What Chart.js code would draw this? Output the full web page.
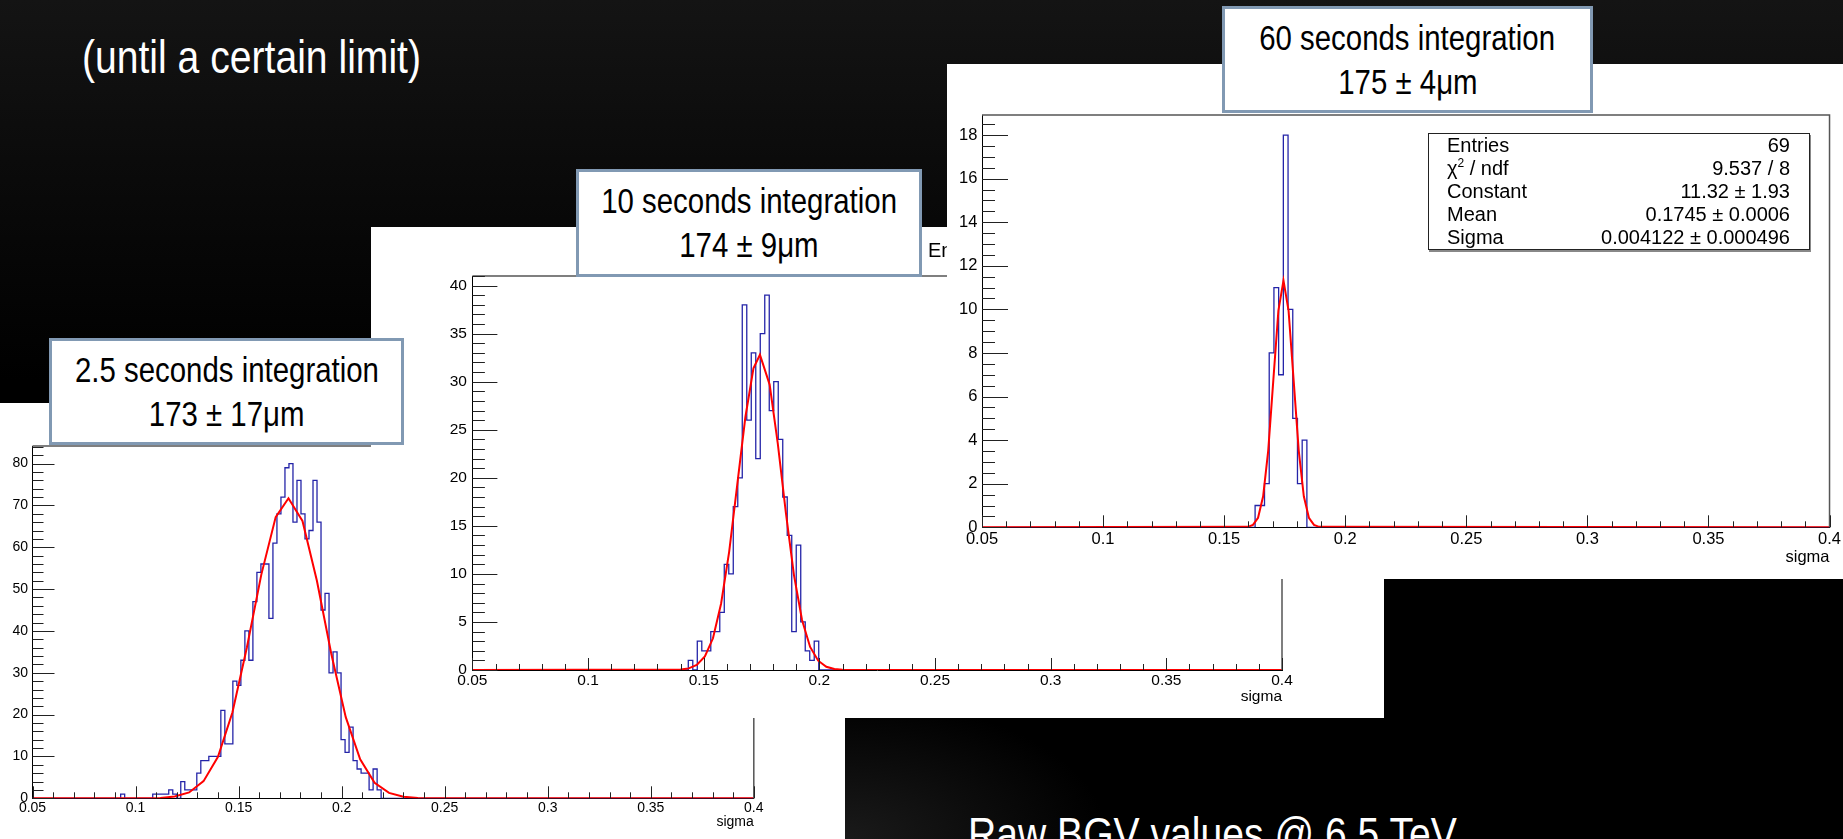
<!DOCTYPE html>
<html>
<head>
<meta charset="utf-8">
<script src="https://cdn.jsdelivr.net/npm/chart.js@4.4.0/dist/chart.umd.min.js"></script>
<style>
html, body { margin: 0; padding: 0; }
body {
  width: 1843px; height: 839px; overflow: hidden; position: relative;
  background:
    radial-gradient(ellipse 260px 140px at 46% 100%, #1a1a1a 0%, rgba(0,0,0,0) 100%),
    linear-gradient(to bottom, #141414 0px, #0b0b0b 160px, #000 380px, #000 839px);
}
.panel { position: absolute; background: #fff; }
.panel canvas { position: absolute; left: 0; top: 0; }
.box {
  position: absolute; box-sizing: border-box; background: #fff; z-index: 10;
  border: 3px solid #8199b3; color: #000;
  font-family: 'Liberation Sans', Arial, sans-serif;
  font-size: 35px; line-height: 44px;
  display: flex; flex-direction: column; justify-content: center;
}
.box div { display: flex; justify-content: center; white-space: nowrap; }
.narrow { display: inline-block; transform: scaleX(0.84); transform-origin: 50% 50%; }
.slide {
  position: absolute; color: #fff; white-space: nowrap;
  font-family: 'Liberation Sans', Arial, sans-serif;
  font-size: 46px; line-height: 46px;
  transform: scaleX(0.85); transform-origin: 0 50%;
}
.stats {
  position: absolute; box-sizing: border-box; background: #fff;
  border: 1.5px solid #222; box-shadow: 1px 2px 0 #888;
  font-family: 'Liberation Sans', Arial, sans-serif; font-size: 20px; line-height: 23px;
  padding: 0 19px 0 18px; color: #000;
}
.stats div { display: flex; justify-content: space-between; white-space: nowrap; }
.stats sup { font-size: 12px; line-height: 0; }
</style>
</head>
<body>

<div class="slide" style="left:82px; top:34px;">(until a certain limit)</div>
<div class="slide" style="left:968px; top:811px;">Raw BGV values @ 6.5 TeV</div>

<div class="panel" style="left:0px; top:403px; width:845px; height:436px; z-index:1;">
  <canvas id="hist25" width="845" height="436"></canvas>
</div>

<div class="panel" style="left:371px; top:227px; width:1013px; height:491px; z-index:2;">
  <canvas id="hist10" width="1013" height="491"></canvas>
  <div style="position:absolute; left:557px; top:13px; font:20px/20px 'Liberation Sans', Arial, sans-serif;">Entries</div>
</div>

<div class="panel" style="left:947px; top:64px; width:896px; height:515px; z-index:3;">
  <canvas id="hist60" width="896" height="515"></canvas>
  <div class="stats" style="left:481px; top:69px; width:382px; height:117px;">
    <div><span>Entries</span><span>69</span></div>
    <div><span>&chi;<sup>2</sup> / ndf</span><span>9.537 / 8</span></div>
    <div><span>Constant</span><span>11.32 &plusmn; 1.93</span></div>
    <div><span>Mean</span><span>0.1745 &plusmn; 0.0006</span></div>
    <div><span>Sigma</span><span>0.004122 &plusmn; 0.000496</span></div>
  </div>
</div>

<div class="box" style="left:49px; top:338px; width:355px; height:107px;">
  <div><span class="narrow">2.5 seconds integration</span></div>
  <div><span class="narrow">173 &plusmn; 17&mu;m</span></div>
</div>
<div class="box" style="left:576px; top:169px; width:346px; height:108px;">
  <div><span class="narrow">10 seconds integration</span></div>
  <div><span class="narrow">174 &plusmn; 9&mu;m</span></div>
</div>
<div class="box" style="left:1222px; top:6px; width:371px; height:107px;">
  <div><span class="narrow">60 seconds integration</span></div>
  <div><span class="narrow">175 &plusmn; 4&mu;m</span></div>
</div>

<script>
// histogram binning shared by all three plots
const binLow = 0.05
const binHigh = 0.4
const nBins = 180
const binWidth = (binHigh - binLow) / nBins

////////// 2.5 s integration //////////
const h25First = 22
const h25Counts = [1, 0, 0, 0, 0, 0, 0, 0,
  1, 1, 1, 1, 2, 1, 0, 4, 2, 2,
  2, 6, 9, 9, 10, 10, 10, 21, 13, 13,
  28, 27, 33, 40, 33, 47, 54, 56, 56, 43,
  61, 68, 72, 79, 80, 66, 76, 68, 62, 64,
  76, 66, 45, 49, 30, 35, 30, 14, 11, 17,
  9, 7, 6, 6, 2, 7, 2]
const fit25X = [0.05, 0.105, 0.112, 0.119, 0.126, 0.133, 0.140, 0.147, 0.154, 0.161, 0.168, 0.1742,
  0.181, 0.188, 0.195, 0.202, 0.209, 0.216, 0.223, 0.230, 0.237, 0.244, 0.4]
const fit25Y = [0, 0.02, 0.1, 0.42, 1.4, 4.1, 9.9, 20.5, 36.0, 53.4, 67.2, 71.7,
  66.3, 52.0, 34.5, 19.4, 9.3, 3.7, 1.3, 0.37, 0.09, 0.02, 0]

////////// 10 s integration //////////
const h10First = 48
const h10Counts = [1, 0, 3, 2, 2, 4, 4, 6, 11, 10,
  17, 20, 38, 26, 33, 22, 35, 39, 27, 30,
  24, 18, 14, 4, 13, 5, 2, 1, 3]
const fit10X = [0.05, 0.140, 0.1435, 0.147, 0.1505, 0.154, 0.1575, 0.161, 0.1645, 0.168, 0.1715, 0.1743,
  0.1785, 0.182, 0.1855, 0.189, 0.1925, 0.196, 0.1995, 0.203, 0.2065, 0.21, 0.4]
const fit10Y = [0, 0.05, 0.17, 0.53, 1.42, 3.3, 6.9, 12.3, 19.3, 26.3, 31.4, 32.8,
  29.7, 23.6, 16.4, 9.9, 5.2, 2.4, 0.97, 0.34, 0.1, 0.03, 0]

////////// 60 s integration //////////
const h60First = 58
const h60Counts = [1, 1, 2, 8, 11, 7, 18, 10, 5, 2, 4]
const fit60X = [0.05, 0.1598, 0.1619, 0.1640, 0.1661, 0.1682, 0.1703, 0.1724, 0.1745,
  0.1766, 0.1787, 0.1808, 0.1829, 0.1850, 0.1871, 0.1892, 0.4]
const fit60Y = [0, 0.02, 0.11, 0.44, 1.42, 3.52, 6.74, 9.94, 11.32,
  9.94, 6.74, 3.52, 1.42, 0.44, 0.11, 0.02, 0]

const tickFont = "'Liberation Sans', Arial, sans-serif"

// step outline of a histogram, one point per bin low edge
histPoints = (first, counts) => {
  let pts = [{x: binLow, y: 0}]
  counts.forEach((c, i) => pts.push({x: binLow + (first + i) * binWidth, y: c}))
  pts.push({x: binLow + (first + counts.length) * binWidth, y: 0})
  pts.push({x: binHigh, y: 0})
  return pts
}

fitPoints = (xs, ys) => xs.map((x, i) => ({x: x, y: ys[i]}))

// ROOT style frame: ticks drawn inward, thin grey top/right edges
const rootAxes = {
  id: 'rootAxes',
  afterDraw(chart, args, o) {
    const {ctx, chartArea: a} = chart
    const x = chart.scales.x
    const y = chart.scales.y
    ctx.save()
    ctx.strokeStyle = '#555'
    ctx.lineWidth = 1.5
    ctx.beginPath()
    ctx.moveTo(a.left, a.top)
    ctx.lineTo(a.right, a.top)
    ctx.lineTo(a.right, a.bottom)
    ctx.stroke()

    ctx.strokeStyle = '#222'
    ctx.lineWidth = 1
    ctx.beginPath()
    for (let i = 0; i * o.yMinor <= y.max + 1e-9; i++) {
      const py = Math.round(y.getPixelForValue(i * o.yMinor)) + 0.5
      const len = i % o.yPer === 0 ? o.yLen : o.yLen / 2
      ctx.moveTo(a.left, py)
      ctx.lineTo(a.left + len, py)
    }
    for (let i = 0; i <= 35; i++) {
      const px = Math.round(x.getPixelForValue(binLow + i * 0.01)) + 0.5
      const len = i % 5 === 0 ? o.xLen : o.xLen / 2
      ctx.moveTo(px, a.bottom)
      ctx.lineTo(px, a.bottom - len)
    }
    ctx.stroke()
    ctx.restore()
  }
}

makeChart = (id, hist, fit, cfg) => {
  return new Chart(document.getElementById(id), {
    type: 'line',
    data: {
      datasets: [{
        data: fit,
        borderColor: '#ff0000',
        borderWidth: 2,
        pointRadius: 0,
        tension: 0
      }, {
        data: hist,
        borderColor: '#2424a8',
        borderWidth: 1.3,
        pointRadius: 0,
        stepped: true
      }]
    },
    options: {
      responsive: false,
      animation: false,
      events: [],
      layout: { padding: cfg.pad },
      plugins: {
        legend: { display: false },
        tooltip: { enabled: false },
        rootAxes: cfg.ticks
      },
      scales: {
        x: {
          type: 'linear', min: binLow, max: binHigh,
          grid: { display: false, drawTicks: false },
          border: { color: '#000', width: 1 },
          ticks: {
            stepSize: 0.05, autoSkip: false, maxRotation: 0, padding: cfg.xPad,
            color: '#000', font: { family: tickFont, size: cfg.fs },
            callback: v => String(+v.toFixed(2))
          },
          title: {
            display: true, text: 'sigma', align: 'end', padding: 0,
            color: '#000', font: { family: tickFont, size: cfg.fs }
          },
          afterFit: s => { s.height = cfg.xH }
        },
        y: {
          min: 0, max: cfg.yMax,
          grid: { display: false, drawTicks: false },
          border: { color: '#000', width: 1 },
          ticks: {
            stepSize: cfg.yStep, includeBounds: false, padding: cfg.yPad,
            color: '#000', font: { family: tickFont, size: cfg.fs }
          },
          afterFit: s => { s.width = cfg.yW }
        }
      }
    },
    plugins: [rootAxes]
  })
}

var chart25 = makeChart('hist25', histPoints(h25First, h25Counts), fitPoints(fit25X, fit25Y), {
  pad: { left: 0, top: 43, right: 91.2, bottom: 8.9 },
  yW: 32.5, xH: 31.8, yMax: 84.2, yStep: 10, fs: 14, xPad: 1, yPad: 4.5,
  ticks: { yMinor: 2, yPer: 5, yLen: 22, xLen: 12 }
})
var chart10 = makeChart('hist10', histPoints(h10First, h10Counts), fitPoints(fit10X, fit10Y), {
  pad: { left: 0, top: 49, right: 102, bottom: 11.7 },
  yW: 101.4, xH: 36.3, yMax: 41, yStep: 5, fs: 15.5, xPad: 1.5, yPad: 5.5,
  ticks: { yMinor: 1, yPer: 5, yLen: 25, xLen: 12 }
})
var chart60 = makeChart('hist60', histPoints(h60First, h60Counts), fitPoints(fit60X, fit60Y), {
  pad: { left: 0, top: 51, right: 13, bottom: 12.1 },
  yW: 35, xH: 39.6, yMax: 18.92, yStep: 2, fs: 16.5, xPad: 2, yPad: 4.6,
  ticks: { yMinor: 0.5, yPer: 4, yLen: 26, xLen: 12 }
})
</script>
</body>
</html>
